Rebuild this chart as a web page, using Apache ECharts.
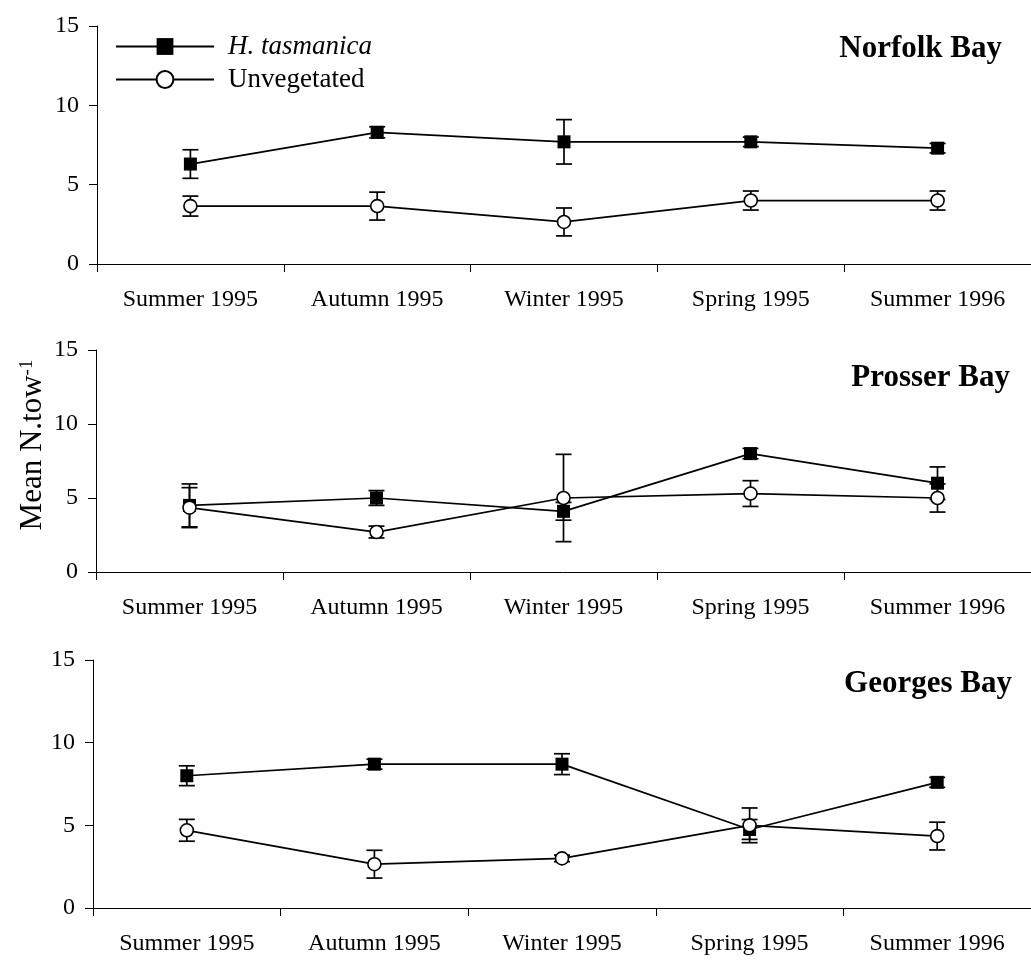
<!DOCTYPE html>
<html>
<head>
<meta charset="utf-8">
<script src="https://cdn.jsdelivr.net/npm/echarts@6/dist/echarts.min.js"></script>
<style>html,body{margin:0;padding:0;background:#fff;}#c{width:1031px;height:960px;}</style>
</head>
<body>
<div id="c"></div>
<script>
const categories = ['Summer 1995', 'Autumn 1995', 'Winter 1995', 'Spring 1995', 'Summer 1996'];
const yTicks = [0, 5, 10, 15];
const panelTitles = ['Norfolk Bay', 'Prosser Bay', 'Georges Bay'];
const seriesNames = ['H. tasmanica', 'Unvegetated'];

const norfolkH = [6.3, 8.3, 7.7, 7.7, 7.3];
const norfolkHErr = [0.9, 0.35, 1.4, 0.3, 0.3];
const norfolkU = [3.65, 3.65, 2.65, 4.0, 4.0];
const norfolkUErr = [0.63, 0.88, 0.88, 0.6, 0.6];

const prosserH = [4.5, 5.0, 4.1, 8.0, 6.0];
const prosserHErr = [1.45, 0.5, 0.6, 0.35, 1.1];
const prosserU = [4.35, 2.7, 5.0, 5.3, 5.0];
const prosserUErr = [1.35, 0.4, 2.95, 0.87, 0.95];

const georgesH = [8.0, 8.7, 8.7, 4.75, 7.6];
const georgesHErr = [0.6, 0.3, 0.63, 0.6, 0.3];
const georgesU = [4.7, 2.65, 3.0, 5.0, 4.35];
const georgesUErr = [0.66, 0.84, 0.2, 1.05, 0.84];

const panels = [
  { h: norfolkH, hErr: norfolkHErr, u: norfolkU, uErr: norfolkUErr },
  { h: prosserH, hErr: prosserHErr, u: prosserU, uErr: prosserUErr },
  { h: georgesH, hErr: georgesHErr, u: georgesU, uErr: georgesUErr }
];

const FONT = 'Liberation Serif, Times New Roman, serif';
const grids = [
  { left: 97, top: 26, width: 934, height: 238 },
  { left: 96, top: 350, width: 935, height: 222 },
  { left: 93, top: 660, width: 938, height: 248 }
];
const titlePos = [
  { right: 29, top: 33 },
  { right: 21, top: 362 },
  { right: 19, top: 668 }
];

function errSeries(idx, vals, errs) {
  return {
    type: 'custom',
    xAxisIndex: idx, yAxisIndex: idx,
    silent: true, z: 1,
    encode: { x: 0, y: [1, 2] },
    data: vals.map((v, i) => [i, v - errs[i], v + errs[i]]),
    renderItem: function (params, api) {
      const x = api.value(0);
      const lo = api.coord([x, api.value(1)]);
      const hi = api.coord([x, api.value(2)]);
      const w = 8;
      const st = { stroke: '#000', lineWidth: 1.7 };
      return {
        type: 'group',
        children: [
          { type: 'line', shape: { x1: lo[0], y1: lo[1], x2: hi[0], y2: hi[1] }, style: st },
          { type: 'line', shape: { x1: hi[0] - w, y1: hi[1], x2: hi[0] + w, y2: hi[1] }, style: st },
          { type: 'line', shape: { x1: lo[0] - w, y1: lo[1], x2: lo[0] + w, y2: lo[1] }, style: st }
        ]
      };
    }
  };
}

const series = [];
panels.forEach((p, i) => {
  series.push(errSeries(i, p.h, p.hErr));
  series.push(errSeries(i, p.u, p.uErr));
  series.push({
    name: seriesNames[0], type: 'line', xAxisIndex: i, yAxisIndex: i, z: 3,
    data: p.h, symbol: 'rect', symbolSize: 13,
    lineStyle: { color: '#000', width: 1.7 },
    itemStyle: { color: '#000', borderColor: '#000', borderWidth: 0 },
    emphasis: { disabled: true }, animation: false
  });
  series.push({
    name: seriesNames[1], type: 'line', xAxisIndex: i, yAxisIndex: i, z: 4,
    data: p.u, symbol: 'circle', symbolSize: 13,
    lineStyle: { color: '#000', width: 1.7 },
    itemStyle: { color: '#fff', borderColor: '#000', borderWidth: 1.6 },
    emphasis: { disabled: true }, animation: false
  });
});

const option = {
  animation: false,
  backgroundColor: '#fff',
  title: panelTitles.map((t, i) => ({
    text: t, right: titlePos[i].right, top: titlePos[i].top, padding: 0,
    textStyle: { fontFamily: FONT, fontWeight: 'bold', fontSize: 31, color: '#000' }
  })),
  legend: {
    data: seriesNames,
    orient: 'vertical', left: 115, top: 33, padding: 0,
    itemWidth: 98, itemHeight: 21, itemGap: 6,
    selectedMode: false,
    formatter: function (name) { return name === 'H. tasmanica' ? '{i|' + name + '}' : '{n|' + name + '}'; },
    textStyle: {
      color: '#000', fontFamily: FONT, fontSize: 27, padding: [0, 0, 0, 9],
      rich: {
        i: { fontStyle: 'italic', fontFamily: FONT, fontSize: 27, color: '#000' },
        n: { fontFamily: FONT, fontSize: 27, color: '#000' }
      }
    }
  },
  grid: grids,
  xAxis: grids.map((g, i) => ({
    type: 'category', gridIndex: i, data: categories, boundaryGap: true,
    axisLine: { lineStyle: { color: '#000', width: 1 } },
    axisTick: { show: true, length: 8, alignWithLabel: false, lineStyle: { color: '#000' } },
    axisLabel: { margin: 24, fontSize: 24, fontFamily: FONT, color: '#000', interval: 0 },
    splitLine: { show: false }
  })),
  yAxis: grids.map((g, i) => ({
    type: 'value', gridIndex: i, min: yTicks[0], max: yTicks[yTicks.length - 1], interval: 5,
    axisLine: { show: true, lineStyle: { color: '#000', width: 1 } },
    axisTick: { show: true, length: 8, lineStyle: { color: '#000' } },
    axisLabel: { margin: 18, fontSize: 24, fontFamily: FONT, color: '#000' },
    splitLine: { show: false }
  })),
  graphic: [{
    type: 'text', x: 33, y: 445, rotation: Math.PI / 2,
    style: {
      text: '{a|Mean N.tow}{b|-1}', align: 'center', verticalAlign: 'middle',
      rich: {
        a: { fontFamily: FONT, fontSize: 31, fill: '#000', color: '#000' },
        b: { fontFamily: FONT, fontSize: 19, fill: '#000', color: '#000', verticalAlign: 'top' }
      }
    }
  }],
  series: series
};

const chart = echarts.init(document.getElementById('c'), null, { renderer: 'canvas' });
chart.setOption(option);
</script>
</body>
</html>
